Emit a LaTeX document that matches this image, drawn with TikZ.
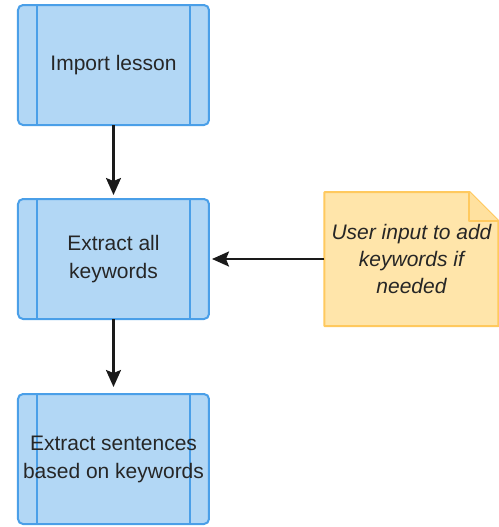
\documentclass[tikz,border=0pt]{standalone}
\usepackage{fontspec}
\setmainfont{Liberation Sans}
\usetikzlibrary{positioning,arrows.meta,backgrounds}
\definecolor{inkc}{HTML}{262626}
\definecolor{arrc}{HTML}{1A1A1A}
\definecolor{procfill}{HTML}{B2D7F5}
\definecolor{procline}{HTML}{4A9FE8}
\definecolor{notefill}{HTML}{FFE5AA}
\definecolor{noteline}{HTML}{FFC95E}
\tikzset{
  proc/.style   ={draw=procline,line width=1pt,rounded corners=2.5pt,fill=procfill,
                  minimum width=95.5pt,minimum height=60pt,inner sep=0pt,outer sep=0pt,align=center,
                  font=\fontsize{10.5}{14}\selectfont,text=inkc,
                  path picture={
                    \draw[procline,line width=1pt]
                      ([xshift=9.5pt]path picture bounding box.north west)--([xshift=9.5pt]path picture bounding box.south west)
                      ([xshift=-9.5pt]path picture bounding box.north east)--([xshift=-9.5pt]path picture bounding box.south east);}},
  note/.style   ={minimum width=87pt,minimum height=67pt,inner sep=0pt,outer sep=0pt,align=center,
                  font=\fontsize{10.5}{13.5}\selectfont\itshape,text=inkc},
  notebox/.style={draw=noteline,line width=1pt,line join=round},
  ar/.style     ={-{Stealth[length=8.5pt,width=7.5pt,inset=1.5pt]},draw=arrc,line width=1.1pt},
}
\begin{document}
\begin{tikzpicture}
\useasboundingbox (0,0) rectangle (249.5pt,-263.5pt);

% ---- main flow -----------------------------------------------------------
\node[proc] (imp) at (56.75pt,-32.5pt) {Import lesson};
\node[proc,below=37pt of imp] (kw) {Extract all\\keywords};
\node[proc,below=37.5pt of kw,minimum height=65pt] (sent) {Extract sentences\\based on keywords};
\draw[ar,shorten >=2pt](imp)--(kw);
\draw[ar,shorten >=3.5pt](kw)--(sent);

% ---- user note -----------------------------------------------------------
\node[note,right=57.75pt of kw] (usr) {User input to add\\keywords if\\needed};
\begin{scope}[on background layer]
  \draw[notebox,fill=notefill] (usr.north west)--([xshift=-14.5pt]usr.north east)--([yshift=-14.5pt]usr.north east)
    --(usr.south east)--(usr.south west)--cycle;
  \draw[notebox,fill=notefill!85!noteline] ([xshift=-14.5pt]usr.north east)--([xshift=-14.5pt,yshift=-14.5pt]usr.north east)
    --([yshift=-14.5pt]usr.north east);
\end{scope}
\draw[ar,shorten >=1.5pt](usr)--(kw);
\end{tikzpicture}
\end{document}
